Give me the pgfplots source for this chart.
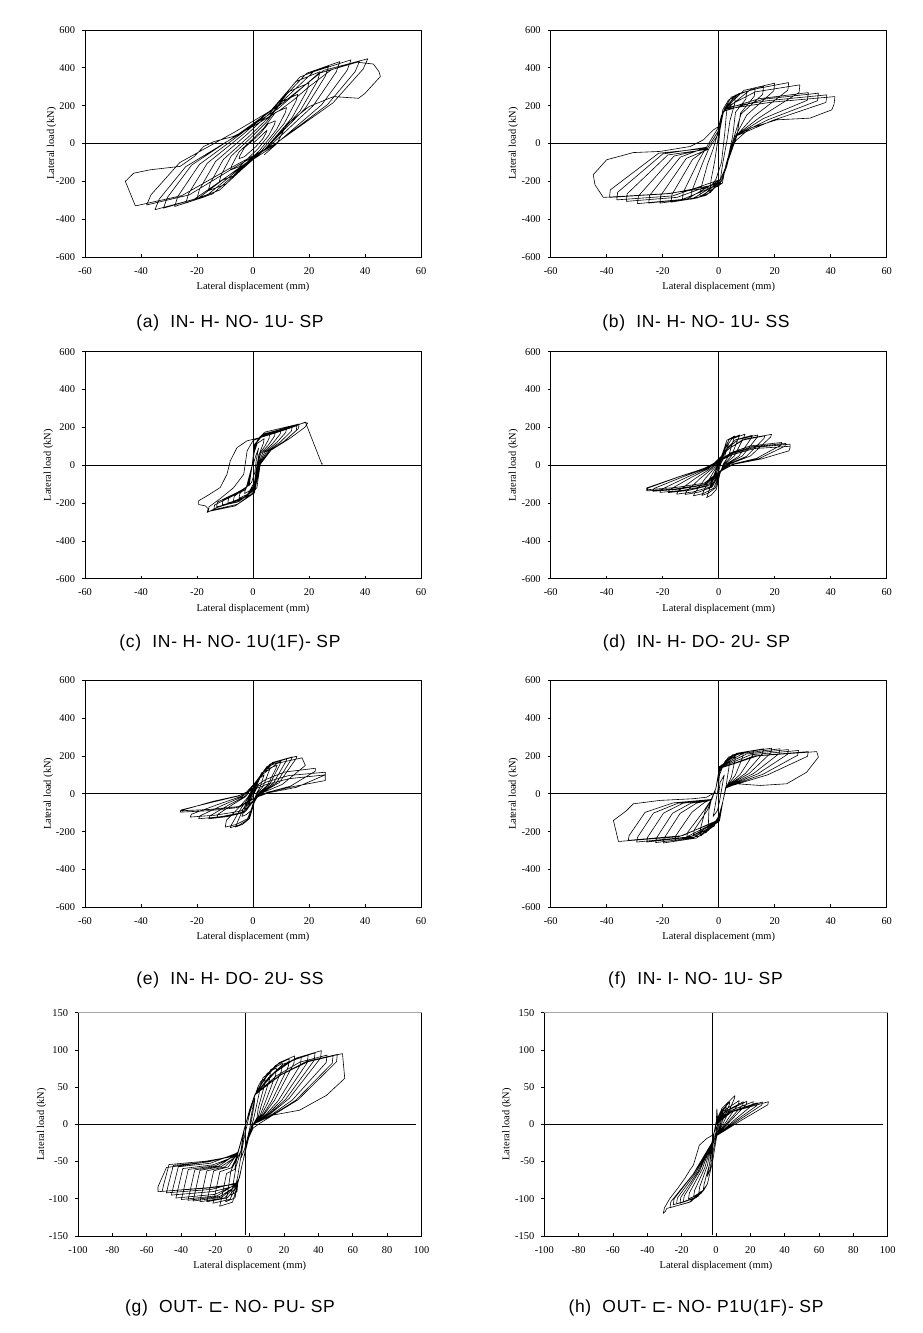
\documentclass[border=0pt]{standalone}
\usepackage{fontspec}
\setmainfont{Liberation Serif}
\newfontfamily\capfont[LetterSpace=4]{Liberation Sans}
\newfontfamily\symfont{DejaVu Sans}
\usepackage{pgfplots}
\pgfplotsset{compat=1.18}
\pgfplotsset{
  hbase/.style={
    scale only axis, clip=false, anchor=south west,
    tick pos=left, tick align=inside, major tick length=3pt,
    every tick/.style={black, line width=0.7pt},
    y tick style={xshift=-3pt},
    tick label style={font=\fontsize{10.4}{12}\selectfont},
    xticklabel style={yshift=-6.8pt},
    yticklabel style={xshift=-6.5pt},
    axis line style={line width=0.8pt},
    xlabel={Lateral displacement (mm)},
    ylabel={Lateral load (kN)},
    label style={font=\fontsize{10.4}{12}\selectfont},
    xlabel style={at={(axis description cs:0.5,-0.133)}, anchor=center},
    hyst/.style={black, line width=0.6pt, line join=round, mark=none},
  },
  hA/.style={hbase, width=336pt, height=227pt,
    xmin=-60, xmax=60, ymin=-600, ymax=600,
    xtick={-60,-40,-20,0,20,40,60}, xticklabels={-60,-40,-20,0,20,40,60},
    ytick={-600,-400,-200,0,200,400,600}, yticklabels={-600,-400,-200,0,200,400,600},
  },
  hB/.style={hbase, width=343.5pt, height=223.3pt,
    xmin=-100, xmax=100, ymin=-150, ymax=150,
    xtick={-100,-80,-60,-40,-20,0,20,40,60,80,100}, xticklabels={-100,-80,-60,-40,-20,0,20,40,60,80,100},
    ytick={-150,-100,-50,0,50,100,150}, yticklabels={-150,-100,-50,0,50,100,150},
  },
}
\newcommand{\zeroA}{\draw[line width=0.8pt] (axis cs:-60,0) -- (axis cs:60,0); \draw[line width=0.8pt] (axis cs:0,-600) -- (axis cs:0,600);}
\begin{document}
\begin{tikzpicture}
\path[use as bounding box] (0pt,0pt) rectangle (922pt,1333pt);

% (a)
\begin{axis}[hA, at={(85pt,1076pt)}, ylabel style={at={(axis description cs:-0.099,0.5)}, anchor=center}]
\zeroA
\addplot[hyst] coordinates {
(0,0) (2.5,35) (5,70)
(4.8,59.5) (3.5,25) (1,-17) (-1,-42.5) (-3,-69.5) (-5,-80)
(-4.74,-66) (-3.05,-22) (0.2,20) (2.8,56) (5.4,104) (8,120)
(7.68,101.8) (5.6,42) (1.6,-30.8) (-1.6,-75) (-4.8,-121.8) (-8,-140)
(-7.6,-116.9) (-5,-44.3) (0,25) (4,84.4) (8,163.6) (12,190)
(11.52,162.7) (8.4,73) (2.4,-36.2) (-2.4,-102.5) (-7.2,-172.7) (-12,-200)
(-11.44,-167.8) (-7.8,-66.6) (-0.8,30) (4.8,112.8) (10.4,223.2) (16,260)
(15.36,224.3) (11.2,107) (3.2,-35.8) (-3.2,-122.5) (-9.6,-214.3) (-16,-250)
(-15.28,-210.1) (-10.6,-84.7) (-1.6,35) (5.6,137.6) (12.8,274.4) (20,320)
(19.2,277.3) (14,137) (4,-33.8) (-4,-137.5) (-12,-247.3) (-20,-290)
(-19.12,-243.1) (-13.4,-95.7) (-2.4,45) (6.4,165.6) (15.2,326.4) (24,380)
(23.04,331.4) (16.8,171.5) (4.8,-23.1) (-4.8,-141.3) (-14.4,-266.4) (-24,-315)
(-22.98,-264.3) (-16.35,-104.8) (-3.6,47.5) (6.6,178) (16.8,352) (27,410)
(25.9,358) (18.75,187.1) (5,-20.9) (-6,-147.3) (-17,-281) (-28,-333)
(-26.82,-279.4) (-19.15,-110.9) (-4.4,50) (7.4,187.9) (19.2,371.7) (31,433)
(29.74,378.8) (21.55,200.5) (5.8,-16.5) (-6.8,-148.3) (-19.4,-287.8) (-32,-342)
(-30.66,-287.1) (-21.95,-114.6) (-5.2,50) (8.2,191.1) (21.6,379.3) (35,442)
(33.6,386.6) (24.5,204.4) (7,-17.4) (-7,-152) (-21,-294.6) (-35,-350)
(-33.54,-295.2) (-24.05,-122.9) (-5.8,41.5) (8.8,182.4) (23.4,370.4) (38,433)
(36.48,379.9) (26.6,205.6) (7.6,-6.6) (-7.6,-135.5) (-22.8,-271.9) (-38,-325)
(-36.42,-270.9) (-26.15,-100.8) (-6.4,61.5) (9.4,200.6) (25.2,386.2) (41,448)
(39.34,393.5) (28.55,214.6) (7.8,-3.2) (-8.8,-135.5) (-25.4,-275.5) (-42,-330)
(-45.6,-200) (-42.6,-157) (-36.7,-139) (-26,-121) (-21,-69) (-17.6,-16) (-14,10) (-7,37) (0,90) (9.8,178) (14.5,230) (20,300) (28,390) (37,430) (43,420) (45,380) (45.5,354) (40,265) (37.7,239) (28.8,248) (20,195) (12,100) (8.6,0) (4,-60)
};
\end{axis}
\node[font=\capfont\fontsize{17.5}{20}\selectfont] at (230pt,1010pt) {(a)\ \ IN- H- NO- 1U- SP};

% (b)
\begin{axis}[hA, at={(550.7pt,1076pt)}, ylabel style={at={(axis description cs:-0.111,0.5)}, anchor=center}]
\zeroA
\addplot[hyst] coordinates {
(0,0) (0.5,80) (1.5,160) (3,190)
(2.7,150) (2.2,60) (1,-100) (-1,-190) (-3,-230)
(-2.7,-190) (-1.5,-100) (-0.5,0) (0.5,100) (1.5,180) (3.5,230) (6,250)
(5.7,210) (4,120) (3,20) (1.5,-100) (0.5,-200) (-3,-260) (-6.7,-280)
(-6.4,-240) (-4,-110) (-2,-30) (0,70) (2,180) (4.5,245) (10,275)
(9.7,235) (6,165) (5,40) (3,-100) (1,-200) (-4.5,-274.4) (-10,-295)
(-9.7,-255) (-5.5,-95) (-3.6,-30) (0.3,60) (1.7,170) (5.85,255.2) (13,290)
(12.7,250) (7.8,160.5) (6.5,40) (3.4,-90) (0.7,-190) (-5.85,-279) (-13,-300)
(-12.7,-260) (-7.15,-90.5) (-4.4,-20) (-0.3,80) (2.3,190) (7.2,264) (16,300)
(15.7,260) (8,156) (5.5,35) (2.6,-110) (1.3,-210) (-7.65,-288.3) (-17,-310)
(-16.7,-270) (-9.35,-84.5) (-4,-25) (0,70) (2,180) (9,280.7) (20,319)
(19.7,279) (10,150) (6,40) (3,-100) (1,-200) (-9.45,-293) (-21,-315)
(-20.7,-275) (-11.55,-78.5) (-3.6,-30) (0.3,60) (1.7,170) (11.25,283.4) (25,322)
(24.7,282) (12.5,142.5) (6.5,45) (3.4,-90) (0.7,-190) (-11.25,-293) (-25,-315)
(-24.7,-275) (-13.75,-72.5) (-4.4,-20) (-0.3,80) (2.3,190) (13.05,272.8) (29,310)
(28.7,270) (14.5,136.5) (5.5,35) (2.6,-110) (1.3,-210) (-13.05,-295.7) (-29,-318)
(-28.7,-278) (-15.95,-66.5) (-4,-25) (0,70) (2,180) (14.4,236.7) (32,269)
(31.7,229) (16,132) (6,40) (3,-100) (1,-200) (-14.85,-284.6) (-33,-306)
(-32.7,-266) (-18.15,-60.5) (-3.6,-30) (0.3,60) (1.7,170) (16,234.1) (35.6,266)
(35.3,226) (17.8,126.6) (6.5,45) (3.4,-90) (0.7,-190) (-16.4,-277.1) (-36.4,-298)
(-36.1,-258) (-20,-55.4) (-4.4,-20) (-0.3,80) (2.3,190) (17.4,226.2) (38.6,257)
(38.3,217) (19.3,122.1) (5.5,35) (2.6,-110) (1.3,-210) (-17.55,-265) (-39,-285)
(-38.7,-245) (-21.45,-51.5) (-4,-25) (0,70) (2,180) (18.7,218.2) (41.5,248)
(41.2,208) (40.4,178) (32.6,134) (20.7,125) (11.2,81) (6.4,19) (4.6,-16) (2.9,-121) (1.1,-192) (0,-227) (-18.5,-265) (-41.2,-285)
(-44.2,-218) (-44.8,-165) (-40,-86) (-30.5,-48) (-21,-42) (-10.2,-16) (-5.5,19) (-1.9,72) (0,90) (1,150)
};
\end{axis}
\node[font=\capfont\fontsize{17.5}{20}\selectfont] at (696pt,1010pt) {(b)\ \ IN- H- NO- 1U- SS};

% (c)
\begin{axis}[hA, at={(85pt,754.3pt)}, ylabel style={at={(axis description cs:-0.109,0.5)}, anchor=center}]
\zeroA
\addplot[hyst] coordinates {
(0,0) (1,50) (2,90)
(1.2,30) (0.6,-40) (-0.5,-90) (-1.5,-110)
(-1,-60) (-0.3,0) (0.5,70) (1.5,115) (4,140)
(3.7,115) (2.5,70) (1.4,0) (0.5,-90) (-1.2,-135) (-3,-150)
(-2.7,-125) (-1.2,-75) (-0.3,0) (0.5,80) (1.5,130) (3.5,155) (6,165)
(5.7,140) (4.2,99) (2.1,57.8) (1.4,0) (0.5,-105) (-2,-154) (-5,-175)
(-4.7,-150) (-1.25,-96.3) (-0.3,0) (0.5,90) (2,144) (8,180)
(7.7,155) (5.6,108) (2.8,63) (1.6,0) (0.5,-114) (-2.8,-167.2) (-7,-190)
(-6.7,-165) (-1.55,-104.5) (-0.3,0) (0.5,95) (2.5,152) (10,190)
(9.7,165) (7,114) (3.5,66.5) (1.8,0) (0.5,-120) (-3.6,-176) (-9,-200)
(-8.7,-175) (-1.85,-110) (-0.3,0) (0.5,99) (3,158.4) (12,198)
(11.7,173) (8.4,118.8) (4.2,69.3) (2,0) (0.5,-126) (-4.4,-184.8) (-11,-210)
(-10.7,-185) (-2.15,-115.5) (-0.3,0) (0.5,102.5) (3.5,164) (14,205)
(13.7,180) (9.8,123) (4.9,71.75) (2.2,0) (0.5,-132) (-5.2,-193.6) (-13,-220)
(-12.7,-195) (-2.45,-121) (-0.3,0) (0.5,104) (3.9,166.4) (15.7,208)
(15.4,183) (11,124.8) (5.5,72.8) (2.4,0) (0.5,-141) (-5.6,-206.8) (-14,-235)
(-13.7,-210) (-2.6,-129) (-0.3,0) (0.5,109) (4.1,174.4) (16.5,218)
(16.2,193) (11.55,130.8) (5.8,76.3) (2.45,0) (0.5,-147) (-6.4,-215.6) (-16,-245)
(-15.7,-220) (-12,-180) (-7,-120) (-3.3,-48) (-2.1,76) (0,130) (5,160) (12,195) (18.7,226)
(19.5,222) (18.5,200) (13,140) (6.5,80) (2.6,5) (1.4,-118) (-0.4,-153) (-6.9,-197) (-12.9,-224) (-16.4,-250)
(-16,-230) (-17,-215) (-19.4,-208) (-19.4,-188) (-16.4,-162) (-11.7,-118) (-9.3,-48) (-8.1,23) (-5.7,93) (-2.1,129) (2.6,146) (8,170) (14,200) (18.7,228) (24.6,5) (24.9,8)
};
\end{axis}
\node[font=\capfont\fontsize{17.5}{20}\selectfont] at (230pt,689.7pt) {(c)\ \ IN- H- NO- 1U(1F)- SP};

% (d)
\begin{axis}[hA, at={(550.7pt,754.3pt)}, ylabel style={at={(axis description cs:-0.111,0.5)}, anchor=center}]
\zeroA
\addplot[hyst] coordinates {
(0,0) (2,60)
(1.6,45) (0.5,10) (-0.5,-30) (-1.5,-60) (-2,-70)
(-1.6,-55) (-0.8,-25) (0.5,15) (1.5,60) (2.5,95) (3.5,110)
(3.1,95) (2.1,45) (0.8,10) (0,-30) (-1.5,-90) (-3,-120)
(-2.6,-105) (-1.6,-55) (-0.6,-15) (1.9,85) (2.9,132) (5.8,155)
(5.4,140) (3.48,46.5) (1.66,7.75) (0.5,-42.75) (-0.86,-128.25) (-2.58,-157.3) (-4.3,-171)
(-3.9,-156) (-2.37,-77) (-0.86,-20.5) (2.13,88) (3.75,136) (7.5,160)
(7.1,145) (4.5,48) (2,8) (0.5,-40) (-1.2,-120) (-3.6,-147.2) (-6,-160)
(-5.6,-145) (-3.3,-72) (-1.2,-19.2) (2.41,90.2) (4.7,139.4) (9.4,164)
(9,149) (5.64,49.2) (2.38,8.2) (0.5,-40.5) (-1.8,-121.5) (-5.4,-149) (-9,-162)
(-8.6,-147) (-4.95,-72.9) (-1.8,-19.4) (2.8,86.9) (6,134.3) (12,158)
(11.6,143) (7.2,47.4) (2.9,7.9) (0.5,-38.75) (-2.4,-116.25) (-7.2,-142.6) (-12,-155)
(-11.6,-140) (-6.6,-69.75) (-2.4,-18.6) (3.1,88) (7,136) (14,160)
(13.6,145) (8.4,48) (3.3,8) (0.5,-38.25) (-3,-114.75) (-9,-140.8) (-15,-153)
(-14.6,-138) (-8.25,-68.85) (-3,-18.4) (3.48,85.25) (8.25,131.75) (16.5,155)
(16.1,140) (9.9,46.5) (3.8,7.75) (0.5,-36.25) (-3.6,-108.75) (-10.8,-133.4) (-18,-145)
(-17.6,-130) (-9.9,-65.25) (-3.6,-17.4) (3.84,89.65) (9.45,138.55) (18.9,163)
(18.5,148) (11.34,48.9) (4.28,8.15) (0.5,-36) (-4.2,-108) (-12.6,-132.5) (-21,-144)
(-20.6,-129) (-11.55,-64.8) (-4.2,-17.3) (4.38,66) (11.25,102) (22.5,120)
(22.1,105) (13.5,36) (5,6) (0.5,-34.5) (-4.7,-103.5) (-14.1,-127) (-23.5,-138)
(-23.1,-123) (-12.9,-62.1) (-4.7,-16.6) (4.6,63.25) (12,97.75) (24,115)
(23.6,100) (14.4,34.5) (5.3,5.75) (0.5,-34) (-5.14,-102) (-15.4,-125.1) (-25.7,-136)
(-25.3,-121) (-14.1,-61.2) (-5.14,-16.3) (4.8,61) (12.75,94.35) (25.5,111)
(25.5,95) (25.1,76) (15.3,33) (5.6,5.5) (0.5,-30) (-5.14,-95) (-15.4,-118) (-25.7,-130)
(-25.7,-120) (-14,-60) (-5,-16) (4.8,55) (12.75,88) (25.5,100) (25.5,90)
};
\end{axis}
\node[font=\capfont\fontsize{17.5}{20}\selectfont] at (696.5pt,689.7pt) {(d)\ \ IN- H- DO- 2U- SP};

% (e)
\begin{axis}[hA, at={(85pt,425.7pt)}, ylabel style={at={(axis description cs:-0.109,0.5)}, anchor=center}]
\zeroA
\addplot[hyst] coordinates {
(0,0) (1,25) (2,50)
(1.6,38) (0.5,5) (-0.5,-25) (-1.4,-50) (-2,-60)
(-1.6,-48) (-0.6,-15) (0.5,20) (1.6,55) (2.6,85) (4,100)
(3.6,85) (2.4,30) (1.3,5) (0.5,-30) (-0.8,-90) (-2.4,-110) (-4,-120)
(-3.6,-105) (-2.2,-54) (-0.8,-14.4) (1.9,71.5) (3,110.5) (6,130)
(5.6,115) (3.6,39) (1.7,6.5) (0.5,-44) (-1.26,-132) (-3.78,-162) (-6.3,-176)
(-5.9,-161) (-3.47,-79.2) (-1.26,-21.1) (2.29,82.5) (4.3,127.5) (8.6,150)
(8.2,135) (5.16,45) (2.22,7.5) (0.5,-44.75) (-1.62,-134.25) (-4.86,-164.7) (-8.1,-179)
(-7.7,-164) (-4.46,-80.55) (-1.62,-21.5) (2.5,93.5) (5,144.5) (10,170)
(9.6,155) (6,51) (2.5,8.5) (0.5,-44) (-1.98,-132) (-5.94,-161.9) (-9.9,-176)
(-9.5,-140) (-5.45,-79.2) (-1.98,-21.1) (2.8,101.75) (6.05,157.25) (12.1,185)
(11.7,170) (7.26,55.5) (2.92,9.25) (0.5,-30.75) (-2.58,-92.25) (-7.74,-113.2) (-12.9,-123)
(-12.5,-108) (-7.1,-55.35) (-2.58,-14.76) (3.1,107.25) (7,165.75) (14,195)
(13.6,180) (8.4,58.5) (3.3,9.75) (0.5,-33) (-3.16,-99) (-9.48,-121.4) (-15.8,-132)
(-15.4,-117) (-8.69,-59.4) (-3.16,-15.84) (3.36,109.45) (7.85,169.15) (15.7,199)
(15.3,184) (9.42,59.7) (3.64,9.95) (0.5,-33) (-3.88,-99) (-11.64,-121.4) (-19.4,-132)
(-19,-117) (-10.67,-59.4) (-3.88,-15.84) (3.6,104.5) (8.75,161.5) (17.5,190)
(18.7,150) (10.5,50) (4,9.5) (0.5,-31) (-4.5,-92) (-13.4,-113) (-22.4,-123)
(-22,-108) (-12.3,-55.35) (-4.48,-14.76) (4.35,74.25) (11.15,114.75) (22.3,135)
(22.3,120) (13.4,40.5) (4.96,6.75) (0.5,-24.25) (-5.2,-72.75) (-15.6,-89.2) (-26,-97)
(-25.6,-85) (-14.3,-43.65) (-5.2,-11.64) (4.87,62.7) (12.9,96.9) (25.8,114)
(25.8,100) (15.5,34.2) (5.66,5.7) (0.5,-22.5) (-5.2,-67.5) (-15.6,-82.8) (-26,-90)
(-14.3,-40) (-5.2,-10) (4.87,50) (12.9,80) (25.8,100) (25.8,70) (15,40) (5,8)
};
\end{axis}
\node[font=\capfont\fontsize{17.5}{20}\selectfont] at (230pt,353pt) {(e)\ \ IN- H- DO- 2U- SS};

% (f)
\begin{axis}[hA, at={(550.7pt,425.7pt)}, ylabel style={at={(axis description cs:-0.111,0.5)}, anchor=center}]
\zeroA
\addplot[hyst] coordinates {
(0,0) (0.5,60) (2,100)
(1.7,80) (1,20) (0.3,-40) (-0.5,-90) (-2,-120)
(-1.7,-100) (-1,-40) (-0.3,20) (0.3,100) (1.6,150) (4,170)
(3.7,145) (3,76.5) (2.5,25.5) (1.5,-40) (0.3,-104.5) (-1.6,-171) (-4,-190)
(-3.7,-165) (-3.5,-85.5) (-2.5,-22.8) (-1,30) (0.3,117) (2.4,175.5) (6,195)
(5.7,170) (4.5,87.75) (2.5,29.25) (1.5,-40) (0.3,-111.1) (-2.68,-181.8) (-6.7,-202)
(-6.4,-177) (-4.85,-90.9) (-2.5,-24.24) (-1,30) (0.3,129.6) (3.52,194.4) (8.8,216)
(8.5,191) (5.9,97.2) (2.5,32.4) (1.5,-40) (0.3,-118.25) (-3.6,-193.5) (-9,-215)
(-8.7,-190) (-4,-86) (-2.5,-25.8) (-1,30) (0.3,137.4) (4.96,206.1) (12.4,229)
(12.1,204) (7.7,103.05) (2.5,34.35) (1.5,-40) (0.3,-125.95) (-4.56,-206.1) (-11.4,-229)
(-11.1,-204) (-5.4,-92) (-2.5,-27.48) (-1,30) (0.3,142.8) (6.4,214.2) (16,238)
(15.7,213) (9.5,107.1) (2.5,35.7) (1.5,-40) (0.3,-135.3) (-6.24,-221.4) (-15.6,-246)
(-15.3,-221) (-9.6,-98) (-5,-45) (-2.5,-29.5) (-1,30) (0.3,144.6) (7.56,216.9) (18.9,241)
(18.6,216) (10.95,108.45) (2.5,36.15) (1.5,-40) (0.3,-143) (-7.92,-234) (-19.8,-260)
(-19.5,-235) (-13.8,-104) (-8,-50) (-2.5,-31.2) (-1,30) (0.3,142.8) (8.76,214.2) (21.9,238)
(21.6,213) (12.45,107.1) (2.5,35.7) (1.5,-40) (0.3,-141.9) (-9,-232.2) (-22.5,-258)
(-22.2,-233) (-16.5,-103) (-10,-50) (-2.5,-30.96) (-1,30) (0.3,140.4) (9.96,210.6) (24.9,234)
(24.6,209) (13.95,105.3) (2.5,35.1) (1.5,-40) (0.3,-140.25) (-10.28,-229.5) (-25.7,-255)
(-25.4,-230) (-19.7,-102) (-12.8,-50) (-2.5,-30.6) (-1,30) (0.3,137.4) (11.4,206.1) (28.5,229)
(28.2,204) (15.75,103.05) (2.5,34.35) (1.5,-40) (0.3,-140.25) (-11.72,-229.5) (-29.3,-255)
(-29,-230) (-23.3,-102) (-14.6,-50) (-2.5,-30.6) (-1,30) (0.3,133.8) (12.8,200.7) (32,223)
(31.7,198) (17.5,100.35) (2.5,33.45) (1.5,-40) (0.3,-135.3) (-12.92,-221.4) (-32.3,-246)
(-32,-221) (-26.3,-98) (-16.2,-48) (-2.5,-29.5) (-1,30) (0.3,133.8) (14,200.7) (35,223)
(35.6,194) (31.4,114) (24.3,53) (14.8,44) (6.4,53) (2.5,30) (1.5,-40) (0.3,-140) (-14.3,-227) (-35.8,-252)
(-37.6,-141) (-33,-90) (-30.5,-53) (-21,-35) (-9,-26) (-4.3,-18) (-1,10)
};
\end{axis}
\node[font=\capfont\fontsize{17.5}{20}\selectfont] at (695.5pt,353pt) {(f)\ \ IN- I- NO- 1U- SP};

% (g)
\begin{axis}[hB, at={(78pt,97pt)}, ylabel style={at={(axis description cs:-0.106,0.5)}, anchor=center}]
\draw[line width=0.8pt] (axis cs:-100,0) -- (axis cs:97,0);
\draw[line width=0.8pt] (axis cs:-2.3,-149) -- (axis cs:-2.3,150);
\draw[gray!70, line width=1.4pt] (rel axis cs:0,1) -- (rel axis cs:1,1);
\addplot[hyst] coordinates {
(0,0) (1.5,20) (3,35)
(2.5,25) (1,5) (-1,-15) (-3,-33) (-5,-45)
(-4.5,-35) (-3,-15) (-1,5) (1,25) (3,40) (6,52)
(5.5,42) (3.3,18.2) (2,5) (0,-10) (-2,-30) (-4.5,-55) (-6,-72) (-8,-80)
(-7,-70) (-5.5,-48) (-3,-15) (0,15) (2.5,35) (4.7,50) (6.5,58) (9,62)
(8.5,52) (4.95,21.7) (4.25,9.3) (2,0) (-1,-20) (-4,-50) (-7,-80) (-7.4,-90.25) (-11,-95)
(-10,-85) (-8,-57) (-5,-35) (-3,-5) (0,20) (3,40) (5.6,49) (7.8,63) (12,70)
(11.5,60) (6.6,24.5) (5,10.5) (2.2,0) (-0.8,-20) (-4.2,-52) (-7.2,-82) (-8.6,-98.8) (-14,-104)
(-13,-94) (-11,-62.4) (-5.2,-36) (-3.2,-6) (0.2,20) (3.2,41) (6.65,53.2) (10.1,68.4) (15.5,76)
(15,66) (8.5,26.6) (5.9,11.4) (1.8,0) (-1.2,-20) (-3.8,-48) (-6.8,-78) (-10,-104.5) (-17.5,-110)
(-16.5,-100) (-13.5,-66) (-8.75,-60.5) (-7,-40) (-2.8,-4) (-0.2,19) (2.8,39) (7.7,57.4) (12.35,73.8) (19,82)
(18.5,72) (10.45,28.7) (6.75,12.3) (2,0) (-1,-20) (-4,-50) (-7,-80) (-11.56,-100.7) (-21.4,-106)
(-20.4,-96) (-17.4,-63.6) (-10.7,-58.3) (-7.2,-42) (-3,-5) (0,20) (3,40) (8.9,61.6) (14.95,79.2) (23,88)
(22.5,78) (12.65,30.8) (7.75,13.2) (2.2,0) (-0.8,-20) (-4.2,-52) (-7.2,-82) (-13,-98.8) (-25,-104)
(-24,-94) (-21,-62.4) (-12.5,-57.2) (-6.8,-38) (-3.2,-6) (0.2,20) (3.2,41) (9.86,64.4) (17.03,82.8) (26.2,92)
(25.7,82) (14.41,32.2) (8.55,13.8) (1.8,0) (-1.2,-20) (-3.8,-48) (-6.8,-78) (-14.6,-98.8) (-29,-104)
(-28,-94) (-25,-62.4) (-14.5,-57.2) (-7,-40) (-2.8,-4) (-0.2,19) (2.8,39) (11,63) (19.5,81) (30,90)
(29.5,80) (16.5,31.5) (9.5,13.5) (2,0) (-1,-20) (-4,-50) (-7,-80) (-16.2,-97.85) (-33,-103)
(-32,-93) (-29,-61.8) (-16.5,-56.65) (-7.2,-42) (-3,-5) (0,20) (3,40) (12.2,65.1) (22.1,83.7) (34,93)
(33.5,83) (18.7,32.55) (10.5,13.95) (2.2,0) (-0.8,-20) (-4.2,-52) (-7.2,-82) (-17.4,-96.9) (-36,-102)
(-35,-92) (-32,-61.2) (-18,-56.1) (-6.8,-38) (-3.2,-6) (0.2,20) (3.2,41) (13.4,67.2) (24.7,86.4) (38,96)
(37.5,86) (20.9,33.6) (11.5,14.4) (1.8,0) (-1.2,-20) (-3.8,-48) (-6.8,-78) (-18.9,-95.95) (-39.8,-101)
(-38.8,-91) (-35.8,-60.6) (-19.9,-55.55) (-7,-40) (-2.8,-4) (-0.2,19) (2.8,39) (14.5,69.3) (27.1,89.1) (41.7,99)
(41.2,89) (22.9,34.65) (12.4,14.85) (2,0) (-1,-20) (-4,-50) (-7,-80) (-20.2,-94.05) (-43,-99)
(-42,-89) (-39,-59.4) (-21.5,-54.45) (-7.2,-42) (-3,-5) (0,20) (3,40) (15.5,65.1) (29.25,83.7) (45,93)
(44.5,83) (24.75,32.55) (13.25,13.95) (2.2,0) (-0.8,-20) (-4.2,-52) (-7.2,-82) (-21.2,-90.25) (-45.6,-95)
(-44.6,-85) (-41.6,-57) (-22.8,-52.25) (-6.8,-38) (-3.2,-6) (0.2,20) (3.2,41) (16.55,64.4) (31.5,82.8) (48.5,92)
(48,82) (26.7,32.2) (14.1,13.8) (1.8,0) (-1.2,-20) (-3.8,-48) (-6.8,-78) (-22.4,-87.4) (-48.5,-92)
(-47.5,-82) (-44.5,-55.2) (-24.25,-50.6) (-7,-40) (-2.8,-4) (-0.2,19) (2.8,39) (17.3,65.8) (33.15,84.6) (51,94)
(50.5,84) (28.05,32.9) (14.75,14.1) (2,0) (-1,-20) (-4,-50) (-7,-80) (-23.4,-85.5) (-51,-90)
(-50,-80) (-47,-54) (-25.5,-49.5) (-7.2,-42) (-3,-5) (0,20) (3,40) (18.2,66.5) (35.1,85.5) (54,95)
(55.3,61.8) (44.7,39) (29,19) (13.6,12.5) (5.8,1.3) (2,-5) (-1,-20) (-4,-50) (-7,-80) (-24,-85) (-53.4,-90.5)
(-53.4,-83.7) (-48.5,-58) (-29,-52) (-9.7,-43) (-6.8,-36.7) (-3,-5)
};
\end{axis}
\node[font=\capfont\fontsize{17.5}{20}\selectfont] at (230pt,24.7pt) {(g)\ \ OUT- {\symfont ⊏}- NO- PU- SP};

% (h)
\begin{axis}[hB, width=343.4pt, at={(544.3pt,97pt)}, ylabel style={at={(axis description cs:-0.109,0.5)}, anchor=center}]
\draw[line width=0.8pt] (axis cs:-100,0) -- (axis cs:97,0);
\draw[line width=0.8pt] (axis cs:-2.1,-149) -- (axis cs:-2.1,150);
\draw[gray!70, line width=1.4pt] (rel axis cs:0,1) -- (rel axis cs:1,1);
\addplot[hyst] coordinates {
(0,0) (2,10)
(1,0) (-1,-20) (-3,-40)
(-2.5,-30) (-1.2,-12) (0,2) (1.5,10) (4,18)
(3.7,14) (2,3) (0,-15) (-2,-40) (-3.5,-60) (-5,-70)
(-4.5,-62) (-2.5,-38) (-1,-10) (0,3) (1.8,13.2) (6,24)
(5.7,20) (3,4.8) (0.5,-15) (-2,-50) (-5,-80) (-7.4,-88)
(-6.9,-80) (-3.7,-52.8) (-2.5,-25) (0,0) (2.4,16.5) (8,30)
(7.7,26) (4,6) (0.5,-15) (-2,-50) (-5,-80) (-7,-88) (-10,-92)
(-9.5,-84) (-5,-55.2) (-2.5,-25) (0,0) (3.3,21.2) (11,38.5)
(10.7,34.5) (5.5,7.7) (0.5,-15) (-2,-50) (-5,-80) (-7,-88) (-13,-97)
(-12.5,-89) (-6.5,-58.2) (-2.5,-25) (0,0) (4.05,17.6) (13.5,32)
(13.2,28) (6.75,6.4) (0.5,-15) (-2,-50) (-5,-80) (-7,-88) (-8.8,-93) (-16,-100)
(-15.5,-92) (-8,-60) (-2.5,-25) (0,0) (4.77,16.7) (15.9,30.4)
(15.6,26.4) (7.95,6.1) (0.5,-15) (-2,-50) (-5,-80) (-7,-88) (-10.45,-96.7) (-19,-104)
(-18.5,-96) (-9.5,-62.4) (-2.5,-25) (0,0) (5.4,17) (18,31)
(17.7,27) (9,6.2) (0.5,-15) (-2,-50) (-5,-80) (-7,-88) (-11.55,-98.6) (-21,-106)
(-20.5,-98) (-10.5,-63.6) (-2.5,-25) (0,0) (6.5,16.7) (21.7,30.4)
(21.4,26.4) (10.85,6.1) (0.5,-15) (-2,-50) (-5,-80) (-7,-88) (-12.65,-99.5) (-23,-107)
(-22.5,-99) (-11.5,-64.2) (-2.5,-25) (0,0) (7.2,16) (24,29)
(23.7,25) (12,5.8) (0.5,-15) (-2,-50) (-5,-80) (-7,-88) (-13.7,-100.4) (-24.9,-108)
(-24.4,-100) (-12.45,-64.8) (-2.5,-25) (0,0) (8.1,16.5) (27,30)
(26.7,26) (13.5,6) (0.5,-15) (-2,-50) (-5,-80) (-7,-88) (-14.7,-104) (-26.8,-112)
(-26.3,-104) (-13.4,-67.2) (-2.5,-25) (0,0) (9.15,16.7) (30.5,30.4)
(30.2,26.4) (15.25,6.1) (0.5,-15) (-2,-50) (-5,-80) (-7,-88) (-15.8,-105) (-28.7,-113)
(-29.5,-117) (-30.7,-119.6) (-30,-112) (-27,-100) (-22,-85) (-18,-72) (-15.1,-61) (-13.2,-55) (-9.7,-28) (-5.4,-19) (-1.6,-14) (0,-5) (0.5,21) (1,5)
};
\end{axis}
\node[font=\capfont\fontsize{17.5}{20}\selectfont] at (696pt,24.7pt) {(h)\ \ OUT- {\symfont ⊏}- NO- P1U(1F)- SP};
\end{tikzpicture}
\end{document}
